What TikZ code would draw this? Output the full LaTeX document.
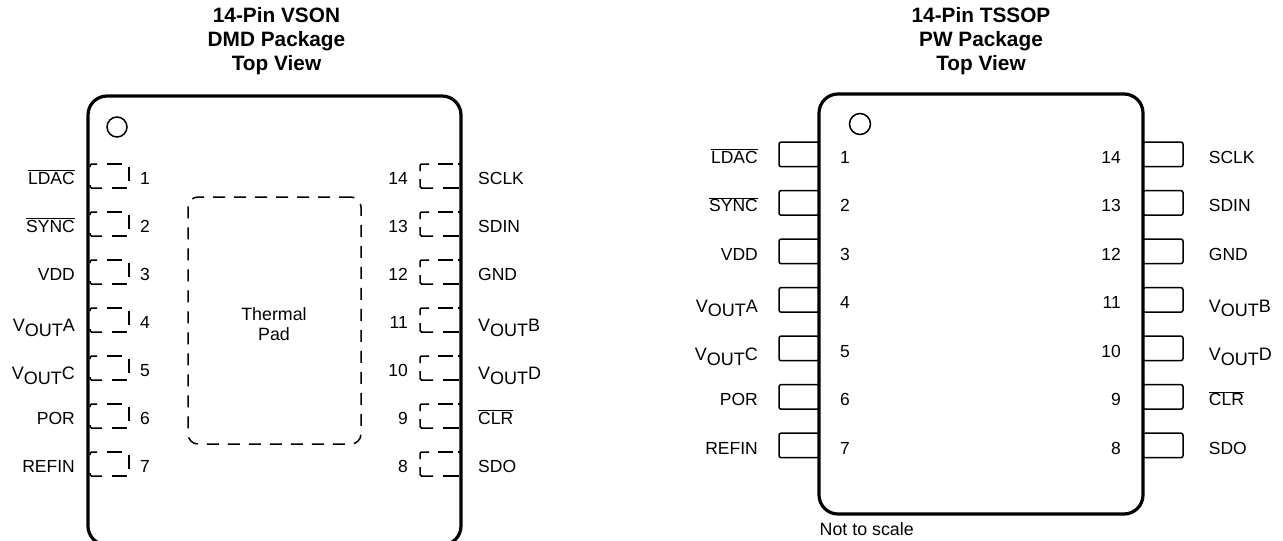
\documentclass[tikz,border=0pt]{standalone}
\usepackage{fontspec}
\setmainfont{Liberation Sans}
\newcommand\ovl[1]{$\overline{\hbox{#1}}$}
\newcommand\vout[1]{{\fontsize{18}{21}\selectfont V\raisebox{-4.5pt}{OUT}#1}}
\tikzset{
  x=1pt,y=-1pt,
  pkg/.style={draw,line width=3.2pt,rounded corners=19pt},
  pinbox/.style={draw,line width=1.5pt,rounded corners=2pt,inner sep=0pt,outer sep=0pt,minimum width=40pt,minimum height=24.5pt},
  dashpin/.style={line width=1.5pt,rounded corners=1.5pt},
  padbox/.style={draw,line width=1.5pt,rounded corners=10pt,dash pattern=on 12pt off 9pt,inner sep=0pt},
  dot/.style={draw,circle,line width=1.5pt,minimum size=20pt,inner sep=0pt},
  txt/.style={inner sep=0pt,font=\fontsize{17.5}{21}\selectfont},
  lblR/.style={txt,anchor=base east},
  lblL/.style={txt,anchor=base west},
  title/.style={inner sep=0pt,align=center,font=\fontsize{20.8}{24}\selectfont\bfseries}
}
\begin{document}
\begin{tikzpicture}
\useasboundingbox (0,0) rectangle (1283,541);
\clip (0,0) rectangle (1283,541);
% titles
\node[title] (t1) at (276.5,41) {14-Pin VSON\\DMD Package\\Top View};
\node[title] (t2) at (981,41) {14-Pin TSSOP\\PW Package\\Top View};
% left package dashed pins
\foreach \k in {0,...,6}{
  \pgfmathsetmacro\yy{164+48*\k}
  \draw[dashpin] (97,\yy) -- (90,\yy) -- (90,\yy+3);
  \draw[dashpin] (107,\yy) -- (122,\yy);
  \draw[dashpin] (129,\yy+3) -- (129,\yy+17);
  \draw[dashpin] (90,\yy+21) -- (90,\yy+24) -- (102,\yy+24);
  \draw[dashpin] (112,\yy+24) -- (127,\yy+24);
  \draw[dashpin] (429,\yy) -- (420,\yy) -- (420,\yy+7);
  \draw[dashpin] (438,\yy) -- (453,\yy);
  \draw[dashpin] (458,\yy) -- (460,\yy);
  \draw[dashpin] (420,\yy+15) -- (420,\yy+24) -- (433,\yy+24);
  \draw[dashpin] (443,\yy+24) -- (459,\yy+24);
}
% left package
\node[pkg,inner sep=0pt,minimum width=373pt,minimum height=449pt] (p1) at (274.5,320.5) {};
\node[dot] (c1) at (117,127) {};
\node[padbox,minimum width=173pt,minimum height=247pt] (pad) at (274.5,320.5) {};
\node[inner sep=0pt,align=center,font=\fontsize{17.8}{20}\selectfont] (padtxt) at (274,324) {Thermal\\Pad};
% left package labels
\foreach \k/\n/\t in {0/1/\ovl{LDAC},1/2/\ovl{SYNC},2/3/VDD,5/6/POR,6/7/REFIN}{
  \node[lblR] (la\n) at (75,184.3+48*\k) {\t};
  \node[lblL] (na\n) at (140,184.3+48*\k) {\n};
}
\foreach \k/\n/\t in {3/4/\vout{A},4/5/\vout{C}}{
  \node[lblR] (la\n) at (75,187.8+48*\k) {\t};
  \node[lblL] (na\n) at (140,184.3+48*\k) {\n};
}
\foreach \k/\n/\t in {0/14/SCLK,1/13/SDIN,2/12/GND,5/9/\ovl{CLR},6/8/SDO}{
  \node[lblL] (la\n) at (478,184.3+48*\k) {\t};
  \node[lblR] (na\n) at (408,184.3+48*\k) {\n};
}
\foreach \k/\n/\t in {3/11/\vout{B},4/10/\vout{D}}{
  \node[lblL] (la\n) at (478,187.8+48*\k) {\t};
  \node[lblR] (na\n) at (408,184.3+48*\k) {\n};
}
% right package pins
\foreach \k in {0,...,6}{
  \node[pinbox] (pl\k) at (799,154.4+48.5*\k) {};
  \node[pinbox] (pr\k) at (1163,154.4+48.5*\k) {};
}
\node[pkg,fill=white,inner sep=0pt,minimum width=324pt,minimum height=420pt] (p2) at (981,304) {};
\node[dot,minimum size=21pt] (c2) at (860,124) {};
% right package labels
\foreach \k/\n/\t in {0/1/\ovl{LDAC},1/2/\ovl{SYNC},2/3/VDD,5/6/POR,6/7/REFIN}{
  \node[lblR] (lb\n) at (758,163.3+48.5*\k) {\t};
  \node[lblL] (nb\n) at (840,163.3+48.5*\k) {\n};
}
\foreach \k/\n/\t in {3/4/\vout{A},4/5/\vout{C}}{
  \node[lblR] (lb\n) at (758,166.8+48.5*\k) {\t};
  \node[lblL] (nb\n) at (840,163.3+48.5*\k) {\n};
}
\foreach \k/\n/\t in {0/14/SCLK,1/13/SDIN,2/12/GND,5/9/\ovl{CLR},6/8/SDO}{
  \node[lblL] (lb\n) at (1208.7,163.3+48.5*\k) {\t};
  \node[lblR] (nb\n) at (1121,163.3+48.5*\k) {\n};
}
\foreach \k/\n/\t in {3/11/\vout{B},4/10/\vout{D}}{
  \node[lblL] (lb\n) at (1208.7,166.8+48.5*\k) {\t};
  \node[lblR] (nb\n) at (1121,163.3+48.5*\k) {\n};
}
\node[inner sep=0pt,anchor=base west,font=\fontsize{17.8}{20}\selectfont] (scale) at (819.5,535) {Not to scale};
\end{tikzpicture}
\end{document}
